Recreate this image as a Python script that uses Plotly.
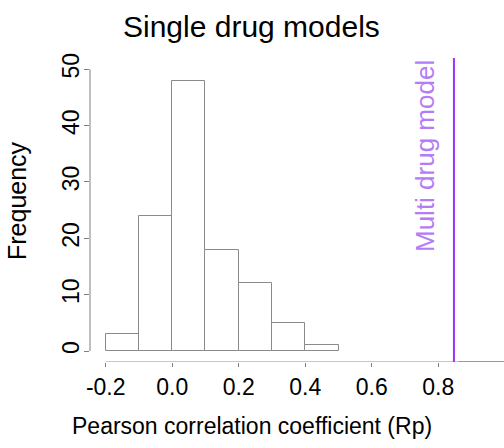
import plotly.graph_objects as go

# Data
bin_starts = [-0.2, -0.1, 0.0, 0.1, 0.2, 0.3, 0.4]
bin_width = 0.1
counts = [3, 24, 48, 18, 12, 5, 1]
multi_drug_rp = 0.847
x_ticks = [-0.2, 0.0, 0.2, 0.4, 0.6, 0.8]
x_tick_labels = ["-0.2", "0.0", "0.2", "0.4", "0.6", "0.8"]
y_ticks = [0, 10, 20, 30, 40, 50]

FONT = "Liberation Sans, Arial, Helvetica, sans-serif"
centers = [s + bin_width / 2 for s in bin_starts]

fig = go.Figure()
fig.add_trace(go.Bar(
    x=centers, y=counts, width=bin_width,
    marker=dict(color="white", line=dict(color="#8a8a8a", width=1)),
    showlegend=False, hoverinfo="skip",
))

xr = [-0.2472, 0.9975]
yr = [-1.95, 52.0]

fig.update_layout(
    width=504, height=448,
    margin=dict(l=90, r=0, t=58, b=86),
    paper_bgcolor="white", plot_bgcolor="white",
    bargap=0,
    xaxis=dict(range=xr, showgrid=False, zeroline=False, showline=False,
               tickmode="array", tickvals=x_ticks, ticktext=x_tick_labels,
               ticks="outside", ticklen=4, tickcolor="#808080", tickwidth=1,
               tickfont=dict(family=FONT, size=23, color="black")),
    yaxis=dict(range=yr, showgrid=False, zeroline=False, showline=False,
               tickmode="array", tickvals=y_ticks,
               ticks="outside", ticklen=5, tickcolor="#808080", tickwidth=1,
               tickangle=-90, ticklabelstandoff=-4,
               tickfont=dict(family=FONT, size=23, color="black")),
)

# axis lines (R style)
fig.add_shape(type="line", xref="x", yref="y", x0=x_ticks[0], x1=0.86, y0=yr[0], y1=yr[0],
              line=dict(color="#909090", width=1))
fig.add_shape(type="line", xref="x", yref="y", x0=0.86, x1=1.0, y0=yr[0], y1=yr[0],
              line=dict(color="#303030", width=1))
fig.add_shape(type="line", xref="paper", yref="y", x0=0, x1=0, y0=y_ticks[0], y1=y_ticks[-1],
              line=dict(color="#808080", width=1))

# multi drug model line
fig.add_shape(type="line", xref="x", yref="y", x0=multi_drug_rp, x1=multi_drug_rp,
              y0=yr[0], y1=yr[1], line=dict(color="#9B30FF", width=2))
fig.add_annotation(text="Multi drug model", xref="x", yref="paper",
                   x=0.76, y=1.0, xanchor="center", yanchor="top", textangle=-90,
                   showarrow=False, font=dict(family=FONT, size=26, color="#B47CF6"))

# titles
fig.add_annotation(text="Single drug models", xref="paper", yref="paper",
                   x=(251 - 90) / 414, y=1 + (58 - 26) / 304, xanchor="center", yanchor="middle",
                   showarrow=False, font=dict(family=FONT, size=30, color="black"))
fig.add_annotation(text="Pearson correlation coefficient (Rp)", xref="paper", yref="paper",
                   x=(252 - 90) / 414, y=-(426 - 362) / 304, xanchor="center", yanchor="middle",
                   showarrow=False, font=dict(family=FONT, size=23, color="black"))
fig.add_annotation(text="Frequency", xref="paper", yref="paper",
                   x=-(90 - 17) / 414, y=(362 - 201) / 304, xanchor="center", yanchor="middle",
                   textangle=-90,
                   showarrow=False, font=dict(family=FONT, size=25, color="black"))

fig.write_html("out.html", config={"displayModeBar": False},
               post_script="document.body.style.margin='0';document.body.style.padding='0';")
